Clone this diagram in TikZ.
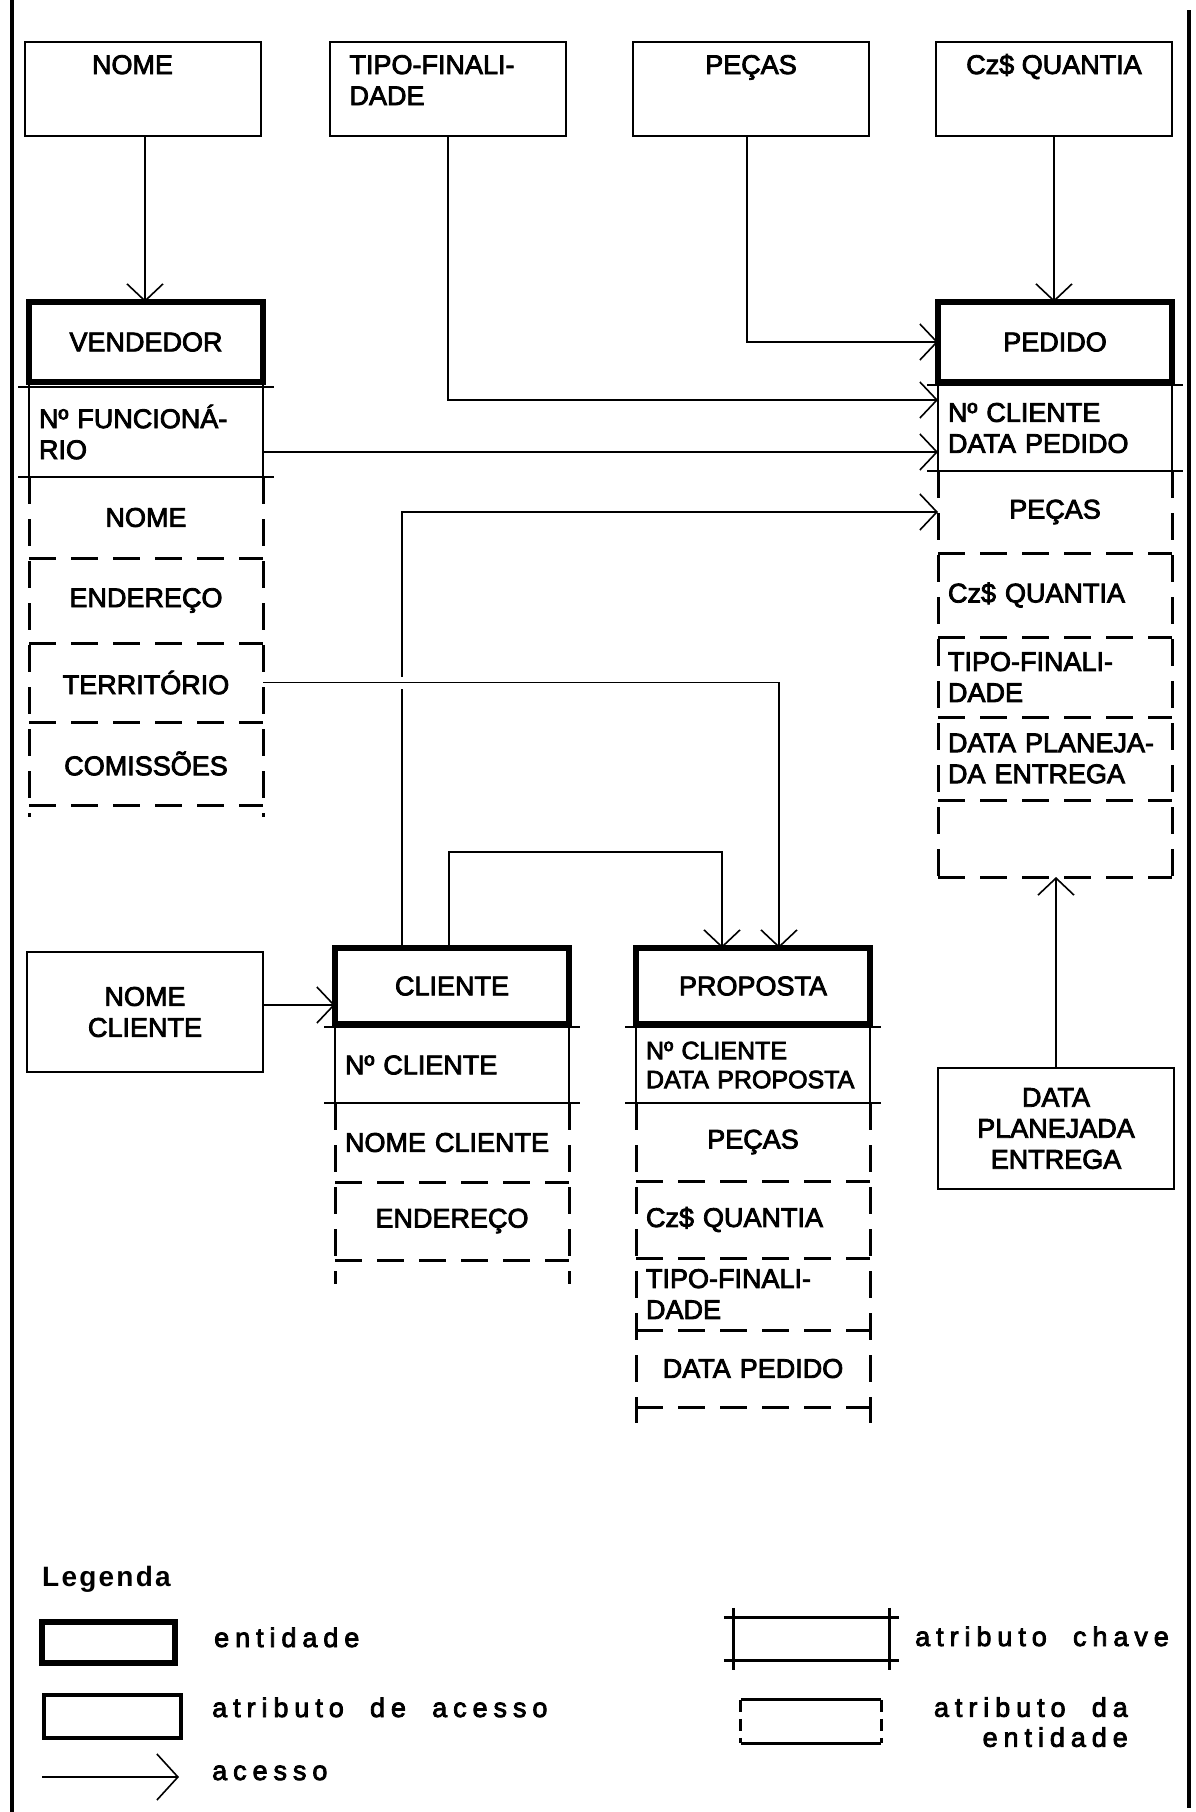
\documentclass[tikz,border=0pt]{standalone}
\usepackage{fontspec}
\setmainfont{Liberation Sans}[UprightFeatures={FakeBold=3}]
\newfontfamily\legfam{Liberation Sans}[LetterSpace=22, WordSpace=1.95, FakeBold=3]
\usetikzlibrary{arrows.meta}
\newcommand{\legfont}{\legfam\fontsize{27}{30}\selectfont}

\begin{document}
\begin{tikzpicture}[
  x=1pt, y=-1pt,
  font=\fontsize{27}{31}\selectfont,
  accbox/.style={draw, line width=2.6pt, minimum width=236pt, minimum height=94pt,
    inner sep=0pt, outer sep=0pt, align=center},
  toptext/.style={text height=20pt, text depth=50pt, inner ysep=12pt},
  entity/.style={draw, line width=5.5pt, minimum width=234pt, minimum height=78pt,
    inner sep=0pt, outer sep=0pt},
  keyattr/.style={minimum width=234pt, text width=214pt, inner xsep=10pt, inner ysep=4pt,
    align=left, outer sep=0pt},
  attr/.style={minimum width=234pt, text width=214pt, inner xsep=10pt, inner ysep=4pt,
    align=center, outer sep=0pt},
  keyline/.style={line width=2.8pt},
  attrline/.style={line width=3pt, dash pattern=on 27pt off 15pt},
  access/.style={-{Straight Barb[length=17pt, width=36pt]}, line width=1.6pt},
  border/.style={line width=4pt},
  legtext/.style={font=\legfont, anchor=base west, inner sep=0pt}
]
\path[use as bounding box, fill=white] (0,0) rectangle (1196,1812);
\draw[border] (12,0) -- (12,1812);
\draw[border] (1189,10) -- (1189,1808);

% atributos de acesso
\node[accbox, toptext, text width=102pt, inner xsep=67pt, align=left] (nome) at (143,89) {NOME};
\node[accbox, toptext, text width=197pt, inner xsep=19pt, align=left] (tipo) at (448,89) {TIPO-FINALI-\\DADE};
\node[accbox, toptext] (pecas) at (751,89) {PEÇAS};
\node[accbox, toptext] (quantia) at (1054,89) {Cz\$ QUANTIA};
\node[accbox, minimum height=120pt] (nomecli) at (145,1012) {NOME\\CLIENTE};
\node[accbox, minimum height=121pt] (dataplan) at (1056,1128.5) {DATA\\PLANEJADA\\ENTREGA};

% VENDEDOR
\node[entity, minimum height=80pt] (vend) at (146,342) {VENDEDOR};
\node[keyattr, minimum height=90pt] (vendkey) at (146,432) {Nº FUNCIONÁ-\\RIO};
\node[attr, minimum height=81pt] (vnome) at (146,517.5) {NOME};
\node[attr, minimum height=85pt] (vender) at (146,600.5) {ENDEREÇO};
\node[attr, minimum height=79pt] (vterr) at (146,682.5) {TERRITÓRIO};
\node[attr, minimum height=83pt] (vcom) at (146,763.5) {COMISSÕES};

% PEDIDO
\node[entity, minimum height=80pt] (ped) at (1055,342) {PEDIDO};
\node[keyattr, minimum height=86pt] (pedkey) at (1055,428) {Nº CLIENTE\\DATA PEDIDO};
\node[attr, minimum height=82pt] (ppecas) at (1055,512) {PEÇAS};
\node[attr, align=left, minimum height=84pt] (pquant) at (1055,595) {Cz\$ QUANTIA};
\node[attr, align=left, minimum height=80pt] (ptipo) at (1055,677) {TIPO-FINALI-\\DADE};
\node[attr, align=left, minimum height=83pt] (pdata) at (1055,758.5) {DATA PLANEJA-\\DA ENTREGA};
\node[attr, minimum height=77pt] (pvazio) at (1055,838.5) {};

% CLIENTE
\node[entity, minimum height=76pt] (cli) at (452,986) {CLIENTE};
\node[keyattr, minimum height=76pt] (clikey) at (452,1065) {Nº CLIENTE};
\node[attr, align=left, minimum height=79pt] (cnome) at (452,1142.5) {NOME CLIENTE};
\node[attr, minimum height=78pt] (cender) at (452,1221) {ENDEREÇO};

% PROPOSTA
\node[entity, minimum height=76pt] (prop) at (753,986) {PROPOSTA};
\node[keyattr, minimum height=76pt, font=\fontsize{25}{29}\selectfont] (propkey) at (753,1065) {Nº CLIENTE\\DATA PROPOSTA};
\node[attr, minimum height=78pt] (rpecas) at (753,1142) {PEÇAS};
\node[attr, align=left, minimum height=77pt] (rquant) at (753,1219.5) {Cz\$ QUANTIA};
\node[attr, align=left, minimum height=72pt] (rtipo) at (753,1294) {TIPO-FINALI-\\DADE};
\node[attr, minimum height=77pt] (rdata) at (753,1368.5) {DATA PEDIDO};

% atributos chave
\draw[keyline] ([xshift=-11pt]vendkey.north west) -- ([xshift=11pt]vendkey.north east)
  ([xshift=-11pt]vendkey.south west) -- ([xshift=11pt]vendkey.south east)
  ([yshift=11pt]vendkey.north west) -- ([yshift=-11pt]vendkey.south west)
  ([yshift=11pt]vendkey.north east) -- ([yshift=-11pt]vendkey.south east);
\draw[keyline] ([xshift=-11pt]pedkey.north west) -- ([xshift=11pt]pedkey.north east)
  ([xshift=-11pt]pedkey.south west) -- ([xshift=11pt]pedkey.south east)
  ([yshift=11pt]pedkey.north west) -- ([yshift=-11pt]pedkey.south west)
  ([yshift=11pt]pedkey.north east) -- ([yshift=-11pt]pedkey.south east);
\draw[keyline] ([xshift=-11pt]clikey.north west) -- ([xshift=11pt]clikey.north east)
  ([xshift=-11pt]clikey.south west) -- ([xshift=11pt]clikey.south east)
  ([yshift=11pt]clikey.north west) -- ([yshift=-11pt]clikey.south west)
  ([yshift=11pt]clikey.north east) -- ([yshift=-11pt]clikey.south east);
\draw[keyline] ([xshift=-11pt]propkey.north west) -- ([xshift=11pt]propkey.north east)
  ([xshift=-11pt]propkey.south west) -- ([xshift=11pt]propkey.south east)
  ([yshift=11pt]propkey.north west) -- ([yshift=-11pt]propkey.south west)
  ([yshift=11pt]propkey.north east) -- ([yshift=-11pt]propkey.south east);

% atributos da entidade
\draw[attrline] (vendkey.south west) -- ([yshift=-12pt]vcom.south west)
  (vendkey.south east) -- ([yshift=-12pt]vcom.south east);
\draw[attrline] (vnome.south west) -- (vnome.south east)
  (vender.south west) -- (vender.south east)
  (vterr.south west) -- (vterr.south east)
  (vcom.south west) -- (vcom.south east);
\draw[attrline] (pedkey.south west) -- ([yshift=-13pt]pvazio.south west)
  (pedkey.south east) -- ([yshift=-13pt]pvazio.south east);
\draw[attrline] (ppecas.south west) -- (ppecas.south east)
  (pquant.south west) -- (pquant.south east)
  (ptipo.south west) -- (ptipo.south east)
  (pdata.south west) -- (pdata.south east)
  (pvazio.south west) -- (pvazio.south east);
\draw[attrline] (clikey.south west) -- ([yshift=-24pt]cender.south west)
  (clikey.south east) -- ([yshift=-24pt]cender.south east);
\draw[attrline] (cnome.south west) -- (cnome.south east)
  (cender.south west) -- (cender.south east);
\draw[attrline] (propkey.south west) -- ([yshift=-16pt]rdata.south west)
  (propkey.south east) -- ([yshift=-16pt]rdata.south east);
\draw[attrline] (rpecas.south west) -- (rpecas.south east)
  (rquant.south west) -- (rquant.south east)
  (rtipo.south west) -- (rtipo.south east)
  (rdata.south west) -- (rdata.south east);

% acessos
\draw[access] ([xshift=2pt]nome.south) -- ([xshift=2pt]nome.south |- vend.north);
\draw[access] (tipo.south) |- ([yshift=28pt]pedkey.west);
\draw[access] ([yshift=-20pt]vendkey.east) -- ([yshift=-24pt]pedkey.west);
\draw[access] ([xshift=-4pt]pecas.south) |- (ped.west);
\draw[access] (quantia.south) -- (quantia.south |- ped.north);
\draw[access] ([xshift=-50pt]cli.north) |- (ppecas.west);
\draw[access] ([xshift=-3pt]cli.north) -- ++(0,-96) -| ([xshift=-31pt]prop.north);
\draw[access, preaction={draw=white, line width=12pt, -, shorten <=6pt, shorten >=30pt}]
  (vterr.east) -| ([xshift=26pt]prop.north);
\coordinate (nc) at ([yshift=7pt]nomecli.east);
\draw[access] (nc) -- (nc -| cli.west);
\draw[access] (dataplan.north) -- (dataplan.north |- pvazio.south);

% legenda
\node[font=\fontsize{28}{32}\selectfont\bfseries\addfontfeatures{LetterSpace=8}, anchor=base west, inner sep=0pt] (legtitle) at (42,1586) {Legenda};
\node[entity, minimum width=133pt, minimum height=41pt] (legent) at (108.5,1642.5) {};
\node[legtext] (legtxtent) at (214,1647) {entidade};
\node[accbox, line width=3.2pt, minimum width=137pt, minimum height=43pt] (legacc) at (112.5,1716.5) {};
\node[legtext] (legtxtacc) at (212,1717) {atributo de acesso};
\coordinate (legarrA) at (42,1777);
\coordinate (legarrB) at (179,1777);
\draw[access, -{Straight Barb[length=21pt, width=46pt]}] (legarrA) -- (legarrB);
\node[legtext] (legtxtarr) at (212,1780) {acesso};
\node[minimum width=155pt, minimum height=42pt, inner sep=0pt] (legkey) at (811.5,1639) {};
\draw[keyline] ([xshift=-10pt]legkey.north west) -- ([xshift=10pt]legkey.north east)
  ([xshift=-10pt]legkey.south west) -- ([xshift=10pt]legkey.south east)
  ([yshift=10pt]legkey.north west) -- ([yshift=-10pt]legkey.south west)
  ([yshift=10pt]legkey.north east) -- ([yshift=-10pt]legkey.south east);
\node[legtext] (legtxtkey) at (915,1646) {atributo chave};
\node[minimum width=140pt, minimum height=43pt, inner sep=0pt] (legattr) at (811,1721.5) {};
\draw[keyline] (legattr.north west) -- (legattr.north east)
  (legattr.south west) -- (legattr.south east);
\draw[attrline, dash pattern=on 12pt off 7pt] (legattr.north west) -- (legattr.south west)
  (legattr.north east) -- (legattr.south east);
\node[font=\legfont, align=right, anchor=north east, inner sep=0pt] (legtxtattr) at (1128,1697) {atributo da\\entidade};
\end{tikzpicture}
\end{document}
